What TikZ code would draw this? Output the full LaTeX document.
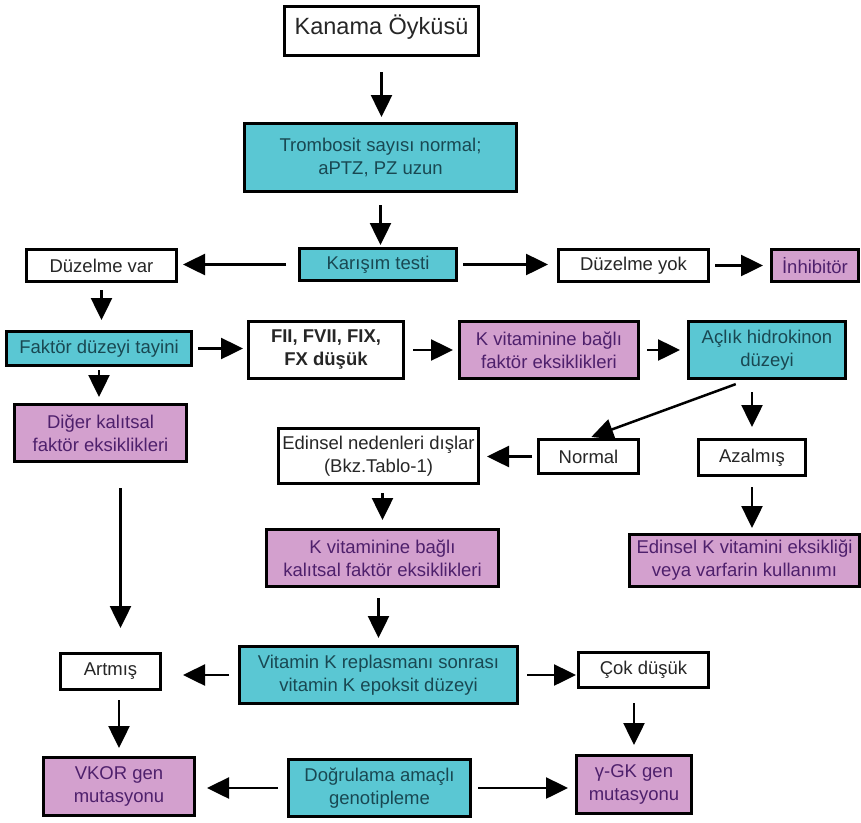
\documentclass[tikz,border=0pt]{standalone}
\usepackage{fontspec}
\setmainfont{Liberation Sans}
\usepackage{tikz}
\usetikzlibrary{arrows.meta}
\definecolor{boxcyan}{RGB}{90,199,211}
\definecolor{boxpink}{RGB}{211,160,206}
\definecolor{txtcyan}{RGB}{25,72,82}
\definecolor{txtpink}{RGB}{78,32,108}

\begin{document}
\begin{tikzpicture}
[
x=1pt, y=-1pt,
>={Triangle[length=22pt,width=21pt]},
box_white/.style={rectangle, draw=black, line width=3pt, fill=white, text=black!85, align=center, inner sep=2pt, font=\fontsize{18.5}{23}\selectfont},
box_cyan/.style={box_white, fill=boxcyan, text=txtcyan},
box_pink/.style={box_white, fill=boxpink, text=txtpink},
arr/.style={->, line width=2.5pt}
]
\useasboundingbox (0,0) rectangle (861,822);

%Nodes
\node[box_white, minimum width=194pt, minimum height=49pt, text depth=13pt, font=\fontsize{23.5}{28}\selectfont] (kanama) at (381.5,31) {Kanama Öyküsü};
\node[box_cyan, minimum width=272pt, minimum height=68pt] (trombosit) at (380.5,157.5) {Trombosit sayısı normal;\\aPTZ, PZ uzun};
\node[box_cyan, minimum width=157pt, minimum height=32pt] (karisim) at (378,264.5) {Karışım testi};
\node[box_white, minimum width=150pt, minimum height=32pt] (duzvar) at (101.5,265.5) {Düzelme var};
\node[box_white, minimum width=150pt, minimum height=32pt] (duzyok) at (633.5,265.5) {Düzelme yok};
\node[box_pink, minimum width=87pt, minimum height=32pt] (inhibitor) at (815,265.5) {İnhibitör};
\node[box_cyan, minimum width=185pt, minimum height=34pt] (faktor) at (99,348.5) {Faktör düzeyi tayini};
\node[box_white, minimum width=155pt, minimum height=57pt, font=\fontsize{18.5}{23}\selectfont\bfseries] (fii) at (326,350) {FII, FVII, FIX,\\FX düşük};
\node[box_pink, minimum width=179pt, minimum height=57pt] (kvit) at (549,350) {K vitaminine bağlı\\faktör eksiklikleri};
\node[box_cyan, minimum width=157pt, minimum height=57pt] (aclik) at (767,350) {Açlık hidrokinon\\düzeyi};
\node[box_pink, minimum width=172pt, minimum height=57pt] (diger) at (100.5,433) {Diğer kalıtsal\\faktör eksiklikleri};
\node[box_white, minimum width=200pt, minimum height=55pt] (edinsel) at (378.5,456) {Edinsel nedenleri dışlar\\(Bkz.Tablo-1)};
\node[box_white, minimum width=100pt, minimum height=34pt] (normal) at (588.5,456.5) {Normal};
\node[box_white, minimum width=107pt, minimum height=36pt] (azalmis) at (752,457.5) {Azalmış};
\node[box_pink, minimum width=232pt, minimum height=57pt] (kvitkal) at (382.5,558) {K vitaminine bağlı\\kalıtsal faktör eksiklikleri};
\node[box_pink, minimum width=230pt, minimum height=52pt] (edinselk) at (744.5,560.5) {Edinsel K vitamini eksikliği\\veya varfarin kullanımı};
\node[box_cyan, minimum width=278pt, minimum height=57pt] (vitk) at (378.5,675) {Vitamin K replasmanı sonrası\\vitamin K epoksit düzeyi};
\node[box_white, minimum width=100pt, minimum height=36pt] (artmis) at (110.5,671.5) {Artmış};
\node[box_white, minimum width=130pt, minimum height=35pt] (cokdusuk) at (643.5,670) {Çok düşük};
\node[box_pink, minimum width=151pt, minimum height=58pt] (vkor) at (119,786.5) {VKOR gen\\mutasyonu};
\node[box_cyan, minimum width=182pt, minimum height=57pt] (dogrulama) at (379.5,788) {Doğrulama amaçlı\\genotipleme};
\node[box_pink, minimum width=115pt, minimum height=58pt] (ggk) at (634,784.5) {γ-GK gen\\mutasyonu};

%Lines
\path[arr]
(kanama.south)    edge[shorten <=15pt, shorten >=5pt]  (kanama.south |- trombosit.north)
(trombosit.south) edge[shorten <=12pt, shorten >=2pt]  (trombosit.south |- karisim.north)
(karisim.west)    edge[shorten <=12pt, shorten >=5pt]  (karisim.west -| duzvar.east)
(karisim.east)    edge[shorten <=5pt, shorten >=9pt]   (karisim.east -| duzyok.west)
(duzyok.east)     edge[shorten <=5pt, shorten >=7pt]   (duzyok.east -| inhibitor.west)
(duzvar.south)    edge[shorten <=7pt, shorten >=10pt]  (duzvar.south |- faktor.north)
(faktor.east)     edge[shorten <=5pt, shorten >=4pt]   (faktor.east -| fii.west)
(fii.east)        edge[shorten <=8pt, shorten >=5pt]   (fii.east -| kvit.west)
(kvit.east)       edge[shorten <=7pt, shorten >=7pt]   (kvit.east -| aclik.west)
(faktor.south)    edge[shorten <=3pt, shorten >=6pt]   (faktor.south |- diger.north)
([xshift=-20pt]aclik.south) edge[shorten <=12pt, shorten >=3pt] (normal.north)
(azalmis.north |- aclik.south) edge[shorten <=12pt, shorten >=11pt] (azalmis.north)
(normal.west)     edge[shorten <=5pt, shorten >=7pt]   (normal.west -| edinsel.east)
(kvitkal.north |- edinsel.south) edge[shorten <=8pt, shorten >=8pt] (kvitkal.north)
(azalmis.south)   edge[shorten <=10pt, shorten >=5pt]  (azalmis.south |- edinselk.north)
([xshift=20pt]diger.south) edge[shorten <=25pt, shorten >=24pt] ([xshift=20pt]diger.south |- artmis.north)
(kvitkal.south -| vitk.north) edge[shorten <=10pt, shorten >=7pt] (vitk.north)
(vitk.west)       edge[shorten <=9pt, shorten >=21pt]  (vitk.west -| artmis.east)
(vitk.east)       edge[shorten <=8pt, shorten >=1pt]   (vitk.east -| cokdusuk.west)
(vkor.north |- artmis.south) edge[shorten <=9pt, shorten >=8pt] (vkor.north)
(ggk.north |- cokdusuk.south) edge[shorten <=14pt, shorten >=9pt] (ggk.north)
(dogrulama.west)  edge[shorten <=9pt, shorten >=11pt]  (dogrulama.west -| vkor.east)
(dogrulama.east)  edge[shorten <=6pt, shorten >=7pt]   (dogrulama.east -| ggk.west);

\end{tikzpicture}
\end{document}
